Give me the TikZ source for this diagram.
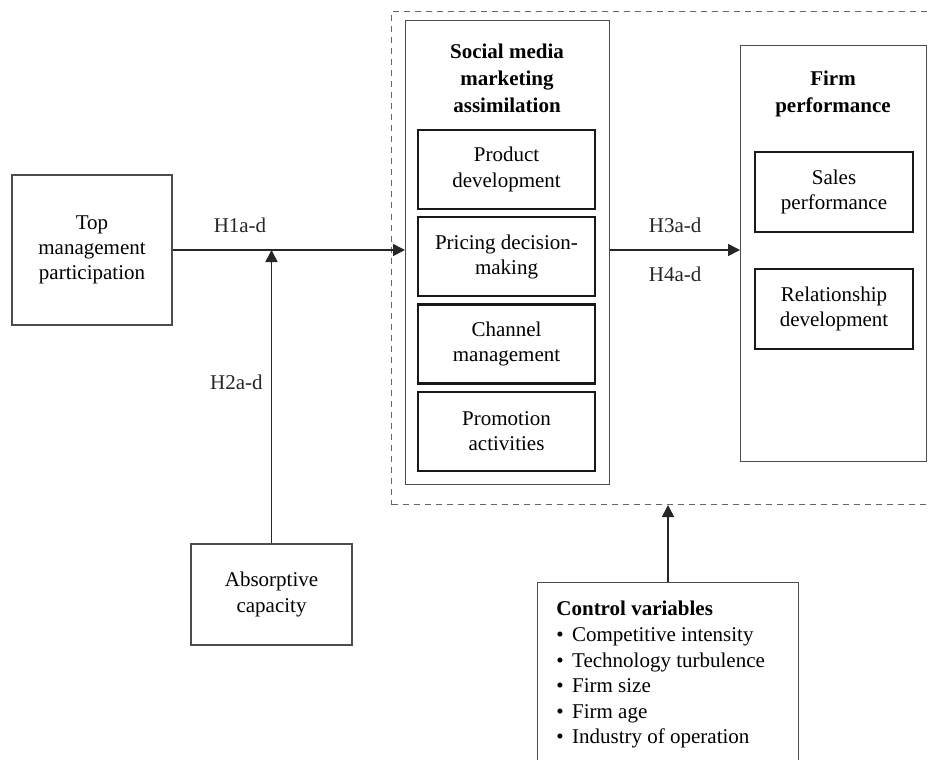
\documentclass[tikz,border=0pt]{standalone}
\usepackage{fontspec}
\setmainfont{Liberation Serif}
\usetikzlibrary{arrows.meta, positioning, calc}

\begin{document}
\begin{tikzpicture}[x=0.5pt, y=-0.5pt,
    box/.style={rectangle, draw=black!70, line width=0.6pt, align=center,
                inner sep=0pt, font=\fontsize{10.5}{12.6}\selectfont},
    subbox/.style={rectangle, draw=black!90, line width=1.1pt, align=center,
                   minimum width=88.5pt, minimum height=39.5pt, inner sep=0pt,
                   font=\fontsize{10.5}{12.6}\selectfont},
    heading/.style={font=\bfseries\fontsize{10.5}{13.5}\selectfont, align=center, inner sep=0pt},
    hyp/.style={font=\fontsize{10.5}{12.6}\selectfont, inner sep=0pt},
    arr/.style={-{Triangle[length=6pt, width=6pt]}, line width=0.8pt, color=black!85},
    node distance=3pt
]
\useasboundingbox (0,0) rectangle (929,759);

% Dashed frame around the assimilation and performance blocks
\node[rectangle, draw=black!60, dash pattern=on 3pt off 2.5pt, line width=0.5pt,
      minimum width=274.5pt, minimum height=246.5pt, anchor=north west] (frame) at (391,11) {};

% Social media marketing assimilation
\node[box, minimum width=102pt, minimum height=232pt, anchor=north west] (smm) at (405,20) {};
\node[heading] (smmtitle) at (507,78) {Social media\\marketing\\assimilation};
\node[subbox] (prod) at (506.5,169.5) {Product\\development};
\node[subbox, below=of prod] (price) {Pricing decision-\\making};
\node[subbox, below=of price] (chan) {Channel\\management};
\node[subbox, below=of chan] (promo) {Promotion\\activities};

% Firm performance
\node[box, minimum width=93pt, minimum height=208pt, anchor=north west] (firm) at (740,45) {};
\node[heading] (firmtitle) at (833,94) {Firm\\performance};
\node[subbox, minimum width=79pt, minimum height=40pt] (sales) at (834,192) {Sales\\performance};
\node[subbox, minimum width=79pt, minimum height=40pt] (rel) at (834,309) {Relationship\\development};

% Antecedents
\node[box, minimum width=80pt, minimum height=75pt] (top) at (92,250) {Top\\management\\participation};
\node[box, minimum width=80.5pt, minimum height=50.5pt] (absorb) at (271.5,594.5) {Absorptive\\capacity};

% Control variables
\node[box, minimum width=130.5pt, minimum height=100pt, anchor=north west] (ctrl) at (537,582) {};
\node[hyp, align=left, anchor=north west, font=\fontsize{10.5}{12.8}\selectfont] (ctrltxt) at (556,601)
    {\textbf{Control variables}\\
     \textbullet\hspace{0.4em}Competitive intensity\\
     \textbullet\hspace{0.4em}Technology turbulence\\
     \textbullet\hspace{0.4em}Firm size\\
     \textbullet\hspace{0.4em}Firm age\\
     \textbullet\hspace{0.4em}Industry of operation};

% Hypothesised paths
\coordinate (h2end) at (absorb.north |- top.east);
\draw[arr] (top.east) -- node[hyp, pos=0.29, above=8pt] {H1a-d} (top.east -| smm.west);
\draw[arr] (absorb.north) -- node[hyp, pos=0.55, left=4pt] {H2a-d} (h2end);
\draw[arr] (top.east -| smm.east) -- node[hyp, above=8pt] {H3a-d}
    node[hyp, below=8pt] {H4a-d} (top.east -| firm.west);
\draw[arr] (ctrl.north -| 668,0) -- (frame.south -| 668,0);
\end{tikzpicture}
\end{document}
